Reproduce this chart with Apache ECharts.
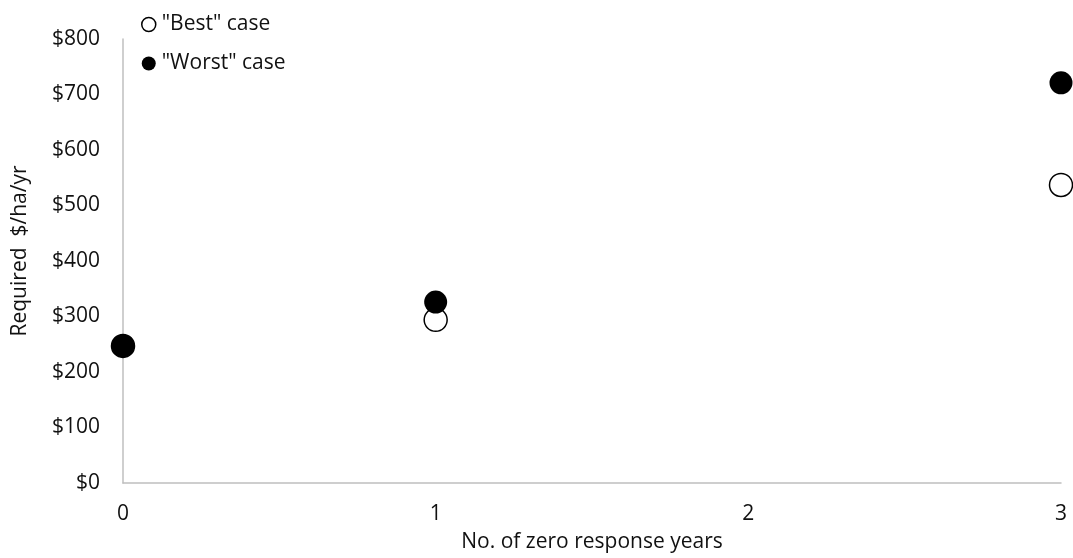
<!DOCTYPE html>
<html>
<head>
<meta charset="utf-8">
<script src="https://cdn.jsdelivr.net/npm/echarts@6/dist/echarts.min.js"></script>
<style>
  html, body { margin: 0; padding: 0; background: #fff; }
  #chart { width: 1073px; height: 558px; }
</style>
</head>
<body>
<div id="chart"></div>
<script>
// Zero-response years on the x axis, required return on the y axis
const zeroYears = [0, 1, 3];
const bestCase = [247, 294, 537];
const worstCase = [247, 326, 721];
const yTicks = [0, 100, 200, 300, 400, 500, 600, 700, 800];
const xTicks = [0, 1, 2, 3];

const font = '"Open Sans", "Liberation Sans", sans-serif';
const textColor = '#111';
const fontSize = 21;

const chart = echarts.init(document.getElementById('chart'));
chart.setOption({
  animation: false,
  grid: { left: 123, right: 12, top: 39, bottom: 75 },
  legend: {
    orient: 'vertical',
    left: 136,
    top: 9,
    itemGap: 18,
    itemWidth: 14,
    itemHeight: 14,
    textStyle: { fontFamily: font, fontSize: fontSize, color: textColor, padding: [0, 0, 0, 1] },
    data: [
      { name: '"Best" case', icon: 'circle', itemStyle: { color: '#fff', borderColor: '#000', borderWidth: 1.5 } },
      { name: '"Worst" case', icon: 'circle', itemStyle: { color: '#000' } }
    ]
  },
  xAxis: {
    type: 'value',
    min: xTicks[0],
    max: xTicks[xTicks.length - 1],
    interval: 1,
    name: 'No. of zero response years',
    nameLocation: 'middle',
    nameGap: 49,
    nameTextStyle: { fontFamily: font, fontSize: fontSize, color: textColor },
    axisLine: { show: true, lineStyle: { color: '#bfbfbf', width: 1.5 } },
    axisTick: { show: false },
    splitLine: { show: false },
    axisLabel: { fontFamily: font, fontSize: fontSize, color: textColor, margin: 21 }
  },
  yAxis: {
    type: 'value',
    min: yTicks[0],
    max: yTicks[yTicks.length - 1],
    interval: 100,
    name: 'Required  $/ha/yr',
    nameLocation: 'middle',
    nameGap: 92,
    nameTextStyle: { fontFamily: font, fontSize: fontSize, color: textColor, padding: [0, 0, 0, 20] },
    axisLine: { show: true, lineStyle: { color: '#bfbfbf', width: 1.5 } },
    axisTick: { show: false },
    splitLine: { show: false },
    axisLabel: { fontFamily: font, fontSize: fontSize, color: textColor, margin: 23, formatter: v => '$' + v }
  },
  series: [
    {
      name: '"Best" case',
      type: 'scatter',
      symbol: 'circle',
      symbolSize: 23,
      clip: false,
      itemStyle: { color: '#fff', borderColor: '#000', borderWidth: 1.5, opacity: 1 },
      data: zeroYears.map((x, i) => [x, bestCase[i]])
    },
    {
      name: '"Worst" case',
      type: 'scatter',
      symbol: 'circle',
      symbolSize: 23,
      clip: false,
      itemStyle: { color: '#000', opacity: 1 },
      data: zeroYears.map((x, i) => [x, worstCase[i]])
    }
  ]
});
</script>
</body>
</html>
